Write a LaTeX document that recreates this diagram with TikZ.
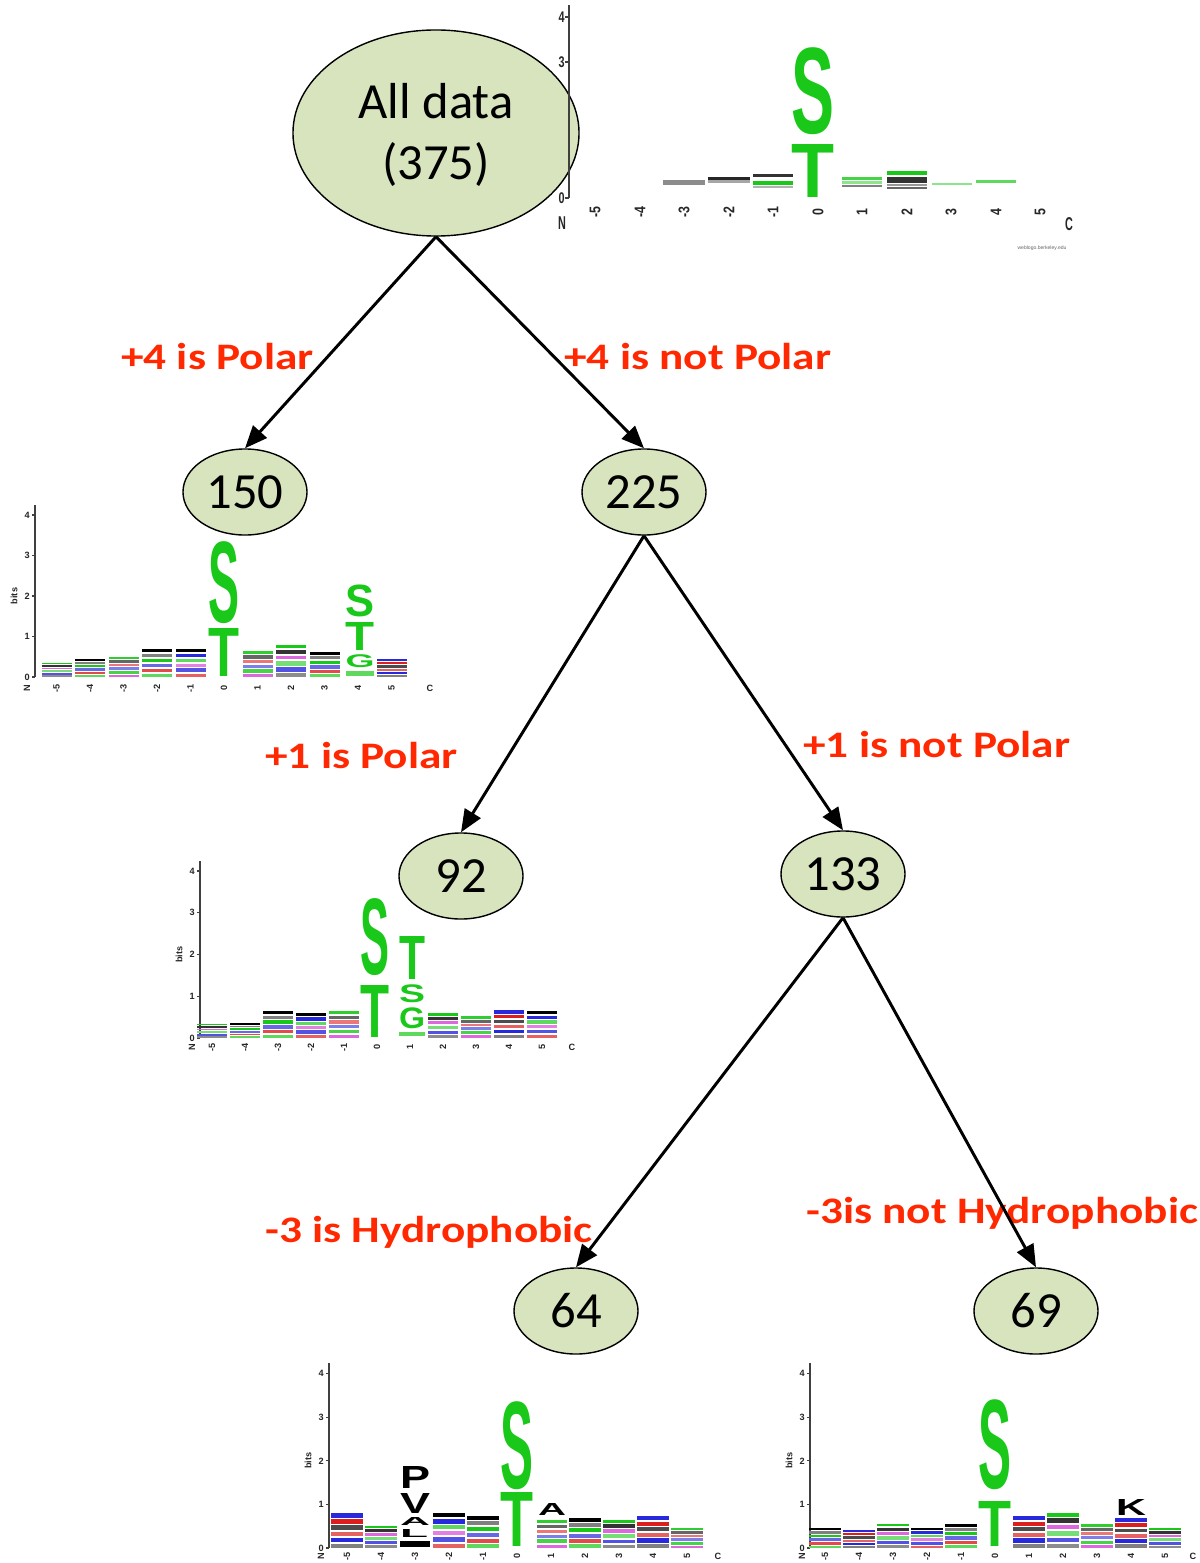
\documentclass[tikz,border=0pt]{standalone}
\usepackage{fontspec}
\usepackage{graphicx}
\setmainfont{Carlito}
\newfontfamily\logofont{Liberation Sans}
\usetikzlibrary{shapes.geometric,arrows.meta}
\definecolor{nodefill}{RGB}{215,228,189}
\definecolor{lblred}{RGB}{255,40,0}
\definecolor{lg}{RGB}{25,200,25}
\definecolor{lb}{RGB}{40,40,220}
\definecolor{lr}{RGB}{220,30,30}
\definecolor{lm}{RGB}{200,0,200}
\definecolor{lk}{RGB}{0,0,0}
\newdimen\pxu \pxu=0.025cm
\newcount\nodecnt
\tikzset{
 aname/.code={\global\advance\nodecnt by 1\relax\pgfkeysalso{name=an\the\nodecnt}},
 treenode/.style={ellipse, draw=black, line width=1pt, fill=nodefill, inner sep=0pt,
   font=\fontsize{36}{43}\selectfont, align=center},
 bignode/.style={treenode, minimum width=7.15cm, minimum height=5.15cm},
 smallnode/.style={treenode, minimum width=3.1cm, minimum height=2.15cm},
 roottext/.style={inner sep=0pt, font=\fontsize{36}{43}\selectfont, align=center},
 cond/.style={text=lblred, font=\fontsize{26.6}{30}\selectfont\bfseries, inner sep=0pt, anchor=base west},
 edge/.style={line width=2.1pt, -{Triangle[length=16pt,width=13pt]}},
 axisline/.style={line width=0.8pt, black!75},
 ticklbl/.style={aname, font=\logofont\bfseries\fontsize{6.5}{7}\selectfont, inner sep=0pt, text=black!85},
 bigtick/.style={aname, font=\logofont\bfseries\fontsize{11}{12}\selectfont, inner sep=0pt, text=black!85},
 logocol/.style={aname, inner sep=0pt, anchor=south},
}
% one logo letter box: color, letter, width px, height px
\newcommand\ltr[4]{\hbox to #3\pxu{\hss\color{#1}\resizebox*{#3\pxu}{#4\pxu}{\logofont\bfseries #2}\hss}}
% one logo column of letters: cx, ybottom, vertical list
\newcommand\wcol[3]{\node[logocol] at (#1,#2) {\vbox{\offinterlineskip #3}};}
% stacked strips: cx, y0, width, total height, pattern
\newcommand\stk[5]{\xdef\cury{#2}%
 \foreach \c/\f in #5 {%
   \pgfmathsetmacro\ny{\cury-\f*#4}%
   \path[fill=\c] (#1-#3/2,\cury) rectangle (#1+#3/2,\ny);%
   \xdef\cury{\ny}%
 }}
\def\PA{lk!45/.12,none/.05,lb!80/.13,none/.05,lg!60/.15,none/.05,lm!60/.12,none/.05,lk!80/.13,none/.05,lg/.10}
\def\PB{lg!70/.12,none/.05,lr!80/.12,none/.05,lb!70/.14,none/.05,lg/.13,none/.05,lk!50/.12,none/.05,lk/.12}
\def\PC{lm!60/.12,none/.05,lg!80/.14,none/.05,lb!60/.12,none/.05,lr!60/.12,none/.05,lk!60/.13,none/.05,lg!90/.12}
\def\PD{lr!70/.12,none/.05,lb!80/.14,none/.05,lm!50/.12,none/.05,lg!70/.12,none/.05,lb/.13,none/.05,lk/.12}
\def\PE{lk!50/.12,none/.05,lb/.13,none/.05,lr!70/.12,none/.05,lk!70/.13,none/.05,lr/.12,none/.05,lb/.13}
% lower logo frame: axis x, y0, bit, c0, spacing, label y, C x
\newcommand\wlogo[7]{%
 \draw[axisline] (#1,#2) -- (#1,#2-4.25*#3);
 \foreach \t in {0,...,4} {
   \draw[axisline] (#1-3,#2-\t*#3) -- (#1,#2-\t*#3);
   \node[ticklbl, anchor=east] at (#1-5,#2-\t*#3) {\t};
 }
 \node[ticklbl, rotate=90] at (#1-21,#2-2*#3) {bits};
 \foreach \i in {-5,...,5} {
   \node[ticklbl, rotate=90] at (#4+\i*#5,#6) {\i};
 }
 \node[ticklbl, rotate=90] at (#1-8,#6) {N};
 \node[ticklbl] at (#7,#6) {C};
}
\newcommand\cnd[1]{\scalebox{1.21}[1]{#1}}
\begin{document}
\begin{tikzpicture}[x=0.025cm, y=-0.025cm]
\useasboundingbox (0,0) rectangle (1200,1563);

% ---------- top logo ----------
\path[fill=lk!45] (663,180) rectangle (705,185);
\path[fill=lk!85] (708,177) rectangle (750,180);
\path[fill=lk!35] (708,180) rectangle (750,183);
\path[fill=lk!80] (753,174) rectangle (793,177);
\path[fill=lg] (753,181) rectangle (793,185);
\path[fill=lk!30] (753,186) rectangle (793,188);
\path[fill=lg!80] (842,177) rectangle (882,180);
\path[fill=lg!50] (842,181) rectangle (882,184);
\path[fill=lk!50] (842,185) rectangle (882,187);
\path[fill=lg] (887,171) rectangle (927,175);
\path[fill=lk!80] (887,177) rectangle (927,183);
\path[fill=lk!40] (887,184) rectangle (927,186);
\path[fill=lk!60] (887,187) rectangle (927,189);
\path[fill=lg!50] (932,183) rectangle (972,185);
\path[fill=lg!70] (976,180) rectangle (1016,183);
\wcol{813}{198}{\ltr{lg}{S}{43}{87}\kern10\pxu\ltr{lg}{T}{43}{53}}

% ---------- root node ----------
\node[bignode] (all) at (436,133) {};
\node[roottext] (alltext) at (436,135) {All data\\(375)};

% top logo axis
\draw[axisline] (569,198) -- (569,5);
\foreach \t/\yy in {0/198,3/62,4/17} {
  \draw[axisline] (565,\yy) -- (569,\yy);
  \node[bigtick, anchor=east] at (565,\yy) {\scalebox{0.7}[1]{\t}};
}
\foreach \i/\xx in {-5/595,-4/640,-3/684,-2/729,-1/773,0/818,1/862,2/907,3/951,4/996,5/1040} {
  \node[bigtick, rotate=90] at (\xx,212) {\scalebox{0.8}[1]{\i}};
}
\node[bigtick] at (562,223) {\scalebox{0.7}[1.2]{N}};
\node[bigtick] at (1069,224) {\scalebox{0.7}[1.2]{C}};
\node[aname, inner sep=0pt, font=\logofont\fontsize{3.6}{4}\selectfont, text=black!60] at (1042,248) {weblogo.berkeley.edu};

% ---------- logo 150 ----------
\wlogo{35}{677}{40.5}{224}{33.5}{688}{430}
\stk{56.5}{677}{30}{14}{\PA}
\stk{90}{677}{30}{18}{\PB}
\stk{123.5}{677}{30}{20}{\PC}
\stk{157}{677}{30}{28}{\PB}
\stk{190.5}{677}{30}{28}{\PD}
\stk{257.5}{677}{30}{26}{\PC}
\stk{291}{677}{30}{32}{\PA}
\stk{324.5}{677}{30}{25}{\PB}
\stk{391.5}{677}{30}{18}{\PE}
\wcol{224}{677}{\ltr{lg}{S}{31}{82}\kern5\pxu\ltr{lg}{T}{31}{48}}
\path[fill=lg!70] (346,671) rectangle (374,676);
\wcol{360}{668}{\ltr{lg}{S}{29}{32}\kern6\pxu\ltr{lg}{T}{29}{28}\kern4\pxu\ltr{lg}{G}{29}{13}}

% ---------- logo 92 ----------
\wlogo{200}{1038}{41.75}{377}{33}{1047}{572}
\stk{212}{1038}{30}{14}{\PA}
\stk{245}{1038}{30}{15}{\PB}
\stk{278}{1038}{30}{27}{\PB}
\stk{311}{1038}{30}{25}{\PD}
\stk{344}{1038}{30}{27}{\PC}
\stk{443}{1038}{30}{25}{\PA}
\stk{476}{1038}{30}{22}{\PC}
\stk{509}{1038}{30}{28}{\PE}
\stk{542}{1038}{30}{27}{\PD}
\wcol{375}{1038}{\ltr{lg}{S}{29}{77}\kern10\pxu\ltr{lg}{T}{29}{52}}
\path[fill=lg!70] (399,1032) rectangle (425,1036);
\wcol{412}{1029}{\ltr{lg}{T}{26}{43}\kern5\pxu\ltr{lg}{S}{26}{18}\kern5\pxu\ltr{lg}{G}{26}{21}}

% ---------- logo 64 ----------
\wlogo{329}{1548}{43.6}{517}{34}{1556}{718}
\stk{347}{1548}{32}{35}{\PE}
\stk{381}{1548}{32}{22}{\PA}
\path[fill=lk] (400,1541) rectangle (430,1547);
\wcol{415}{1538}{\ltr{lk}{P}{30}{22}\kern5\pxu\ltr{lk}{V}{30}{20}\kern4\pxu\ltr{lk}{A}{30}{8}\kern4\pxu\ltr{lk}{L}{28}{8}}
\stk{449}{1548}{32}{35}{\PD}
\stk{483}{1548}{32}{32}{\PB}
\wcol{517}{1547}{\ltr{lg}{S}{33}{88}\kern3\pxu\ltr{lg}{T}{33}{54}}
\stk{552}{1548}{30}{28}{\PC}
\wcol{552}{1516}{\ltr{lk}{A}{28}{12}}
\stk{585}{1548}{32}{30}{\PB}
\stk{619}{1548}{32}{28}{\PA}
\stk{653}{1548}{32}{32}{\PE}
\stk{687}{1548}{32}{20}{\PC}

% ---------- logo 69 ----------
\wlogo{810}{1548}{43.6}{995}{34}{1556}{1193}
\stk{825}{1548}{32}{20}{\PB}
\stk{859}{1548}{32}{18}{\PE}
\stk{893}{1548}{32}{24}{\PA}
\stk{927}{1548}{32}{20}{\PD}
\stk{961}{1548}{32}{24}{\PB}
\wcol{995}{1547}{\ltr{lg}{S}{33}{90}\kern12\pxu\ltr{lg}{T}{33}{45}}
\stk{1029}{1548}{32}{32}{\PE}
\stk{1063}{1548}{32}{35}{\PA}
\stk{1097}{1548}{32}{24}{\PC}
\stk{1131}{1548}{32}{30}{\PE}
\wcol{1131}{1516}{\ltr{lk}{K}{30}{16}}
\stk{1165}{1548}{32}{20}{\PA}

% ---------- tree nodes ----------
\node[smallnode] (n150) at (245,492) {150};
\node[smallnode] (n225) at (644,492) {225};
\node[smallnode] (n92) at (461,876) {92};
\node[smallnode] (n133) at (843,874) {133};
\node[smallnode] (n64) at (576,1311) {64};
\node[smallnode] (n69) at (1036,1311) {69};

% ---------- condition labels ----------
\node[cond] (c1) at (121,369) {\cnd{+4 is Polar}};
\node[cond] (c2) at (564,369) {\cnd{+4 is not Polar}};
\node[cond] (c3) at (265,768) {\cnd{+1 is Polar}};
\node[cond] (c4) at (803,757) {\cnd{+1 is not Polar}};
\node[cond] (c5) at (265,1242) {\cnd{-3 is Hydrophobic}};
\node[cond] (c6) at (806,1223) {\cnd{-3is not Hydrophobic}};

% ---------- connectors ----------
\draw[edge] (all.south) -- (n150.north);
\draw[edge] (all.south) -- (n225.north);
\draw[edge] (n225.south) -- (n92.north);
\draw[edge] (n225.south) -- (n133.north);
\draw[edge] (n133.south) -- (n64.north);
\draw[edge] (n133.south) -- (n69.north);
\end{tikzpicture}
\end{document}
